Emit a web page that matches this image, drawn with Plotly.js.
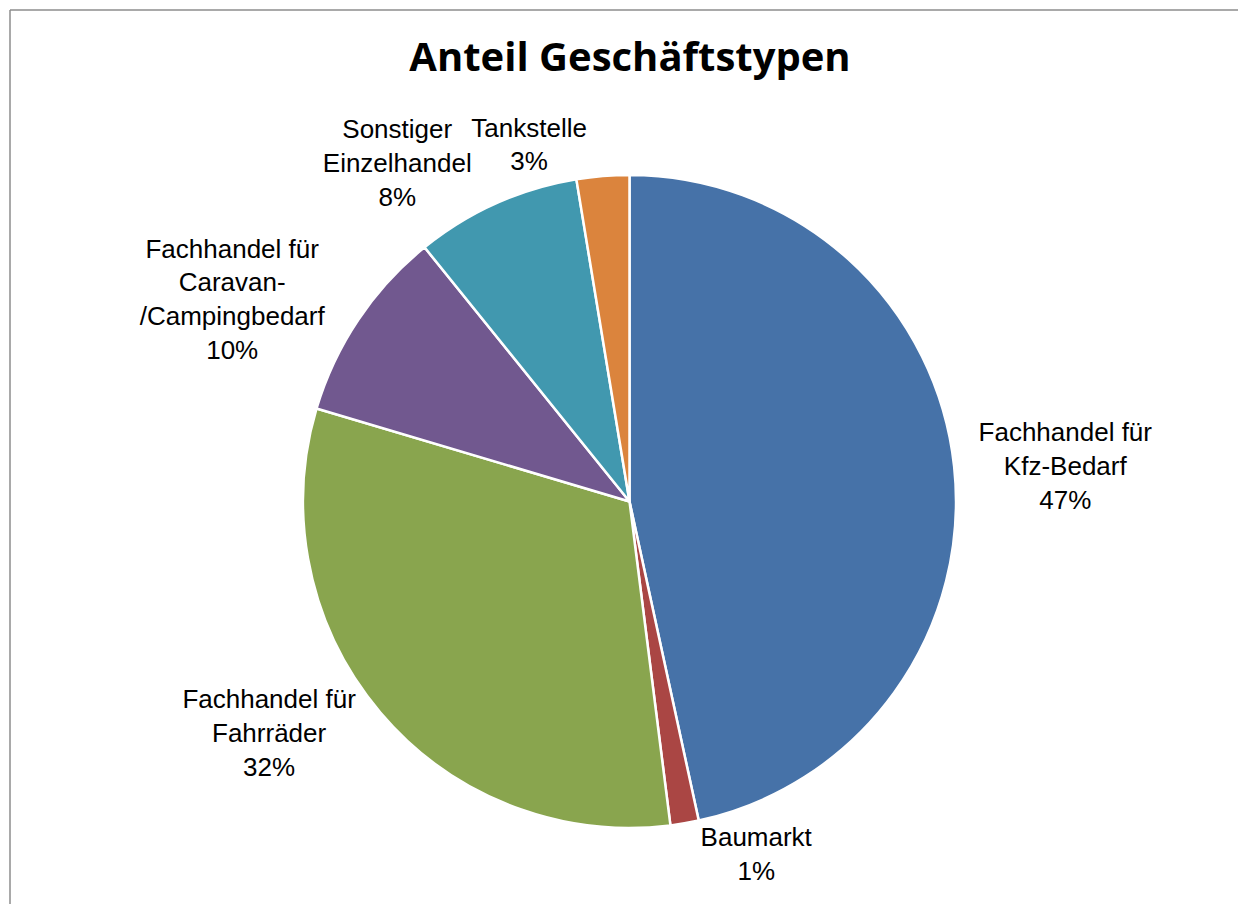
<!DOCTYPE html>
<html>
<head>
<meta charset="utf-8">
<script src="https://cdn.plot.ly/plotly-3.0.1.min.js"></script>
<style>html,body{margin:0;padding:0;background:#fff;}#chart{width:1238px;height:904px;}</style>
</head>
<body>
<div id="chart"></div>
<script>
// Data
const categories = [
  "Fachhandel für Kfz-Bedarf",
  "Baumarkt",
  "Fachhandel für Fahrräder",
  "Fachhandel für Caravan-/Campingbedarf",
  "Sonstiger Einzelhandel",
  "Tankstelle"
];
const labelLines = [
  "Fachhandel für<br>Kfz-Bedarf",
  "Baumarkt",
  "Fachhandel für<br>Fahrräder",
  "Fachhandel für<br>Caravan-<br>/Campingbedarf",
  "Sonstiger<br>Einzelhandel",
  "Tankstelle"
];
const shares = [46.6, 1.4, 31.6, 9.6, 8.2, 2.6];
const colors = ["#4672A8", "#AA4644", "#89A54E", "#71588F", "#4198AF", "#DB843D"];

const W = 1238, H = 904;
const domain = {x: [301 / W, 958 / W], y: [1 - 828 / H, 1 - 175 / H]};
const labelFont = {family: "Liberation Sans", size: 26, color: "#000"};

// Base pie: coloured slices, no text
const traces = [{
  type: "pie",
  labels: categories,
  values: shares,
  sort: false,
  direction: "clockwise",
  rotation: 0,
  textposition: "none",
  marker: {colors: colors, line: {color: "#ffffff", width: 2.5}},
  domain: domain,
  hoverinfo: "label+percent"
}];

// One transparent overlay per slice carries that slice's outside label,
// so Plotly does not push labels away from their slices.
categories.forEach(function (c, i) {
  traces.push({
    type: "pie",
    labels: categories,
    values: shares,
    text: labelLines,
    sort: false,
    direction: "clockwise",
    rotation: 0,
    texttemplate: "%{text}<br>%{percent:.0%}",
    textposition: categories.map(function (_, j) { return j === i ? "outside" : "none"; }),
    outsidetextfont: labelFont,
    marker: {colors: categories.map(function () { return "rgba(0,0,0,0)"; }), line: {width: 0}},
    domain: domain,
    hoverinfo: "skip"
  });
});

const layout = {
  width: W, height: H,
  margin: {l: 0, r: 0, t: 0, b: 0},
  paper_bgcolor: "#fff",
  showlegend: false,
  title: {
    text: "<b>Anteil Geschäftstypen</b>",
    font: {family: "Open Sans", size: 40, color: "#000"},
    x: 630 / W, xanchor: "center",
    y: 1 - 57 / H, yanchor: "middle"
  },
  shapes: [
    {type: "line", xref: "paper", yref: "paper", x0: 10 / W, x1: 10 / W, y0: 0, y1: 1 - 10 / H,
     line: {color: "#8c8c8c", width: 1.5}},
    {type: "line", xref: "paper", yref: "paper", x0: 10 / W, x1: 1, y0: 1 - 10 / H, y1: 1 - 10 / H,
     line: {color: "#8c8c8c", width: 1.5}}
  ]
};

Plotly.newPlot("chart", traces, layout, {displayModeBar: false, staticPlot: true});
</script>
</body>
</html>
